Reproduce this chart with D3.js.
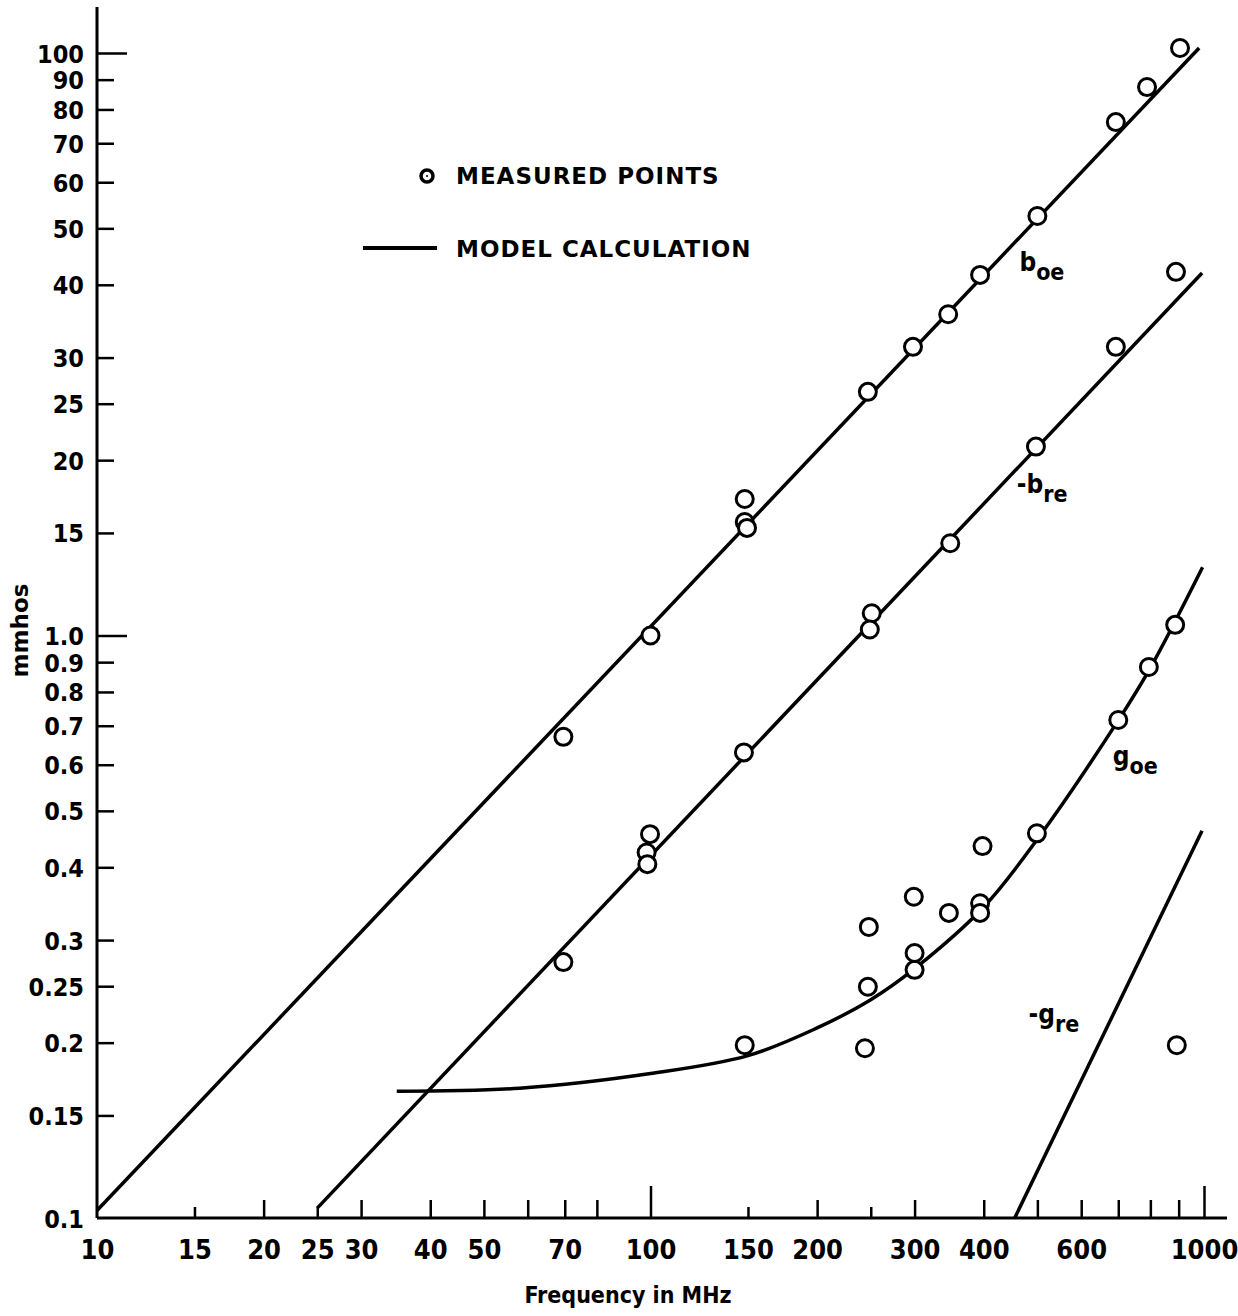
<!DOCTYPE html>
<html>
<head>
<meta charset="utf-8">
<script src="https://cdn.jsdelivr.net/npm/d3@7"></script>
<style>
  body { margin: 0; background: #fff; }
  svg text { font-family: "DejaVu Sans Condensed", "DejaVu Sans", sans-serif; font-stretch: condensed; font-weight: bold; fill: #000; }
  svg text.wide { font-family: "DejaVu Sans", sans-serif; font-stretch: normal; }
</style>
</head>
<body>
<div id="chart"></div>
<script>
// Frequency axis (MHz)
const freqTicks = [10, 15, 20, 25, 30, 40, 50, 60, 70, 80, 100, 150, 200, 250, 300, 400, 500, 600, 700, 800, 900, 1000];
const freqLabelled = [10, 15, 20, 25, 30, 40, 50, 70, 100, 150, 200, 300, 400, 600, 1000];

// mmhos axis - labels as printed on the original
const yTicks = [0.1, 0.15, 0.2, 0.25, 0.3, 0.4, 0.5, 0.6, 0.7, 0.8, 0.9, 1.0, 1.5, 2, 2.5, 3, 4, 5, 6, 7, 8, 9, 10];
const yTickLabels = ["0.1", "0.15", "0.2", "0.25", "0.3", "0.4", "0.5", "0.6", "0.7", "0.8", "0.9", "1.0",
  "15", "20", "25", "30", "40", "50", "60", "70", "80", "90", "100"];

// model calculation curves [freq, value]
const boeModel = [[10, 0.103], [980, 10.2]];
const breModel = [[25, 0.104], [992, 4.19]];
const goeModel = [[34.8, 0.165], [58, 0.167], [100, 0.177], [150, 0.19], [200, 0.212], [250, 0.237],
  [300, 0.268], [400, 0.342], [500, 0.447], [700, 0.715], [800, 0.88], [994, 1.31]];
const greModel = [[455, 0.1], [992, 0.462]];

// measured points [freq, value]
const boePoints = [[69.6, 0.67], [100, 1.0], [148, 1.715], [148, 1.566], [149.4, 1.53], [247, 2.62], [298, 3.13],
  [345, 3.56], [394, 4.16], [500, 5.25], [693, 7.61], [789, 8.74], [905, 10.2]];
const brePoints = [[69.6, 0.275], [99.8, 0.456], [98.4, 0.424], [98.7, 0.405], [147.5, 0.63], [251, 1.092],
  [249, 1.024], [348, 1.44], [497, 2.11], [693, 3.13], [890, 4.21]];
const goePoints = [[148, 0.198], [244, 0.1956], [247, 0.2495], [248, 0.316], [300, 0.2667], [300, 0.285],
  [299, 0.356], [346, 0.334], [394, 0.347], [394, 0.334], [398, 0.435], [499, 0.4575], [700, 0.716],
  [795, 0.883], [887, 1.043]];
const grePoints = [[893, 0.198]];

// curve labels [text, subscript, freq, value]
const curveLabels = [
  ["b", "oe", 464, 4.23],
  ["-b", "re", 459, 1.755],
  ["g", "oe", 684, 0.6],
  ["-g", "re", 482, 0.216]
];

const W = 1238, H = 1316;
const svg = d3.select("#chart").append("svg")
  .attr("width", W)
  .attr("height", H);

svg.append("rect").attr("width", W).attr("height", H).attr("fill", "#fff");

const x = d3.scaleLog().domain([10, 1000]).range([97, 1204]);
const y = d3.scaleLog().domain([0.1, 10]).range([1218, 53]);

// axis lines
svg.append("line")
  .attr("x1", x(10)).attr("x2", x(10))
  .attr("y1", 7).attr("y2", y(0.1))
  .attr("stroke", "#000").attr("stroke-width", 3);
svg.append("line")
  .attr("x1", x(10)).attr("x2", 1227)
  .attr("y1", y(0.1)).attr("y2", y(0.1))
  .attr("stroke", "#000").attr("stroke-width", 3);

// x axis
const xTickLen = d => (d === 100 || d === 1000) ? 32 : ([15, 25, 150, 250].includes(d) ? 11 : 18);
const xAxis = svg.append("g")
  .attr("transform", `translate(0,${y(0.1)})`)
  .call(d3.axisBottom(x)
    .tickValues(freqTicks)
    .tickFormat(d => freqLabelled.includes(d) ? String(d) : "")
    .tickSizeOuter(0));
xAxis.select(".domain").remove();
xAxis.selectAll(".tick line")
  .attr("y2", d => d === 10 ? 0 : -xTickLen(d))
  .attr("stroke", "#000").attr("stroke-width", 2.5);
xAxis.selectAll(".tick text")
  .attr("y", 0).attr("dy", 41)
  .style("font-size", "27px");

// y axis
const yAxis = svg.append("g")
  .attr("transform", `translate(${x(10)},0)`)
  .call(d3.axisLeft(y)
    .tickValues(yTicks)
    .tickFormat((d, i) => yTickLabels[i])
    .tickSizeOuter(0));
yAxis.select(".domain").remove();
yAxis.selectAll(".tick line")
  .attr("x2", d => d === 0.1 ? 0 : ((d === 1 || d === 10) ? 30 : 17))
  .attr("stroke", "#000").attr("stroke-width", 2.5);
yAxis.selectAll(".tick text")
  .attr("x", -13).attr("dy", "0.36em")
  .style("font-size", "25px");

// axis titles
svg.append("text")
  .attr("class", "wide")
  .attr("transform", `translate(28,${y(1.02)}) rotate(-90)`)
  .attr("text-anchor", "middle")
  .style("font-size", "23px")
  .text("mmhos");

svg.append("text")
  .attr("x", 628).attr("y", 1303)
  .attr("text-anchor", "middle")
  .style("font-size", "23px")
  .text("Frequency in MHz");

// model lines
const line = d3.line()
  .x(d => x(d[0]))
  .y(d => y(d[1]));
const curve = d3.line()
  .x(d => x(d[0]))
  .y(d => y(d[1]))
  .curve(d3.curveCatmullRom.alpha(0.5));

[boeModel, breModel, greModel].forEach(m => {
  svg.append("path")
    .attr("d", line(m))
    .attr("fill", "none")
    .attr("stroke", "#000")
    .attr("stroke-width", 3.5);
});
svg.append("path")
  .attr("d", curve(goeModel))
  .attr("fill", "none")
  .attr("stroke", "#000")
  .attr("stroke-width", 3.5);

// measured points
[boePoints, brePoints, goePoints, grePoints].forEach(pts => {
  svg.append("g").selectAll("circle")
    .data(pts)
    .join("circle")
    .attr("cx", d => x(d[0]))
    .attr("cy", d => y(d[1]))
    .attr("r", 8.5)
    .attr("fill", "#fff")
    .attr("stroke", "#000")
    .attr("stroke-width", 3);
});

// curve labels with subscripts
curveLabels.forEach(([main, sub, f, v]) => {
  const t = svg.append("text")
    .attr("x", x(f)).attr("y", y(v))
    .style("font-size", "26px");
  t.append("tspan").text(main);
  t.append("tspan")
    .attr("dy", 9)
    .style("font-size", "23px")
    .text(sub);
});

// legend
const legend = svg.append("g");
legend.append("circle")
  .attr("cx", 427).attr("cy", 176).attr("r", 6)
  .attr("fill", "#fff").attr("stroke", "#000").attr("stroke-width", 3.5);
legend.append("circle")
  .attr("cx", 427).attr("cy", 176).attr("r", 1)
  .attr("fill", "#000");
legend.append("text")
  .attr("class", "wide")
  .attr("x", 456).attr("y", 184)
  .style("font-size", "23px")
  .style("letter-spacing", "1px")
  .text("MEASURED POINTS");
legend.append("line")
  .attr("x1", 363).attr("x2", 437)
  .attr("y1", 248).attr("y2", 248)
  .attr("stroke", "#000").attr("stroke-width", 4);
legend.append("text")
  .attr("class", "wide")
  .attr("x", 456).attr("y", 257)
  .style("font-size", "23px")
  .style("letter-spacing", "1px")
  .text("MODEL CALCULATION");
</script>
</body>
</html>
